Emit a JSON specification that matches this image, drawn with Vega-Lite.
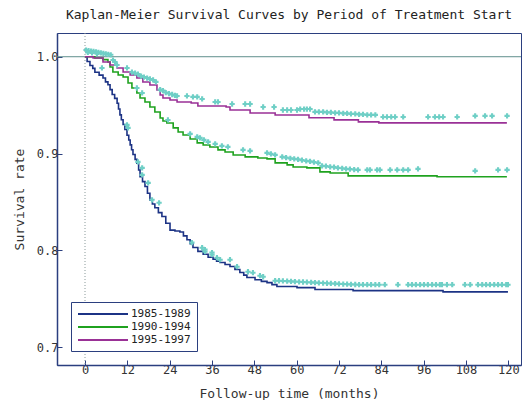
{
  "$schema": "https://vega.github.io/schema/vega-lite/v6.json",
  "width": 464,
  "height": 332,
  "autosize": {"type": "none"},
  "padding": {"left": 57, "top": 33, "right": 4, "bottom": 35},
  "background": "white",
  "title": {
    "text": "Kaplan-Meier Survival Curves by Period of Treatment Start",
    "font": "DejaVu Sans Mono",
    "fontSize": 13,
    "fontWeight": "normal",
    "color": "#222222",
    "anchor": "middle",
    "offset": 11
  },
  "config": {
    "view": {"stroke": "#2b3f7f", "strokeWidth": 1},
    "axis": {
      "labelFont": "DejaVu Sans Mono",
      "labelFontSize": 12,
      "labelColor": "#333333",
      "titleFont": "DejaVu Sans Mono",
      "titleFontSize": 13,
      "titleFontWeight": "normal",
      "titleColor": "#333333",
      "domainColor": "#2b3f7f",
      "domainWidth": 1.5,
      "tickColor": "#2b3f7f",
      "grid": false
    }
  },
  "datasets": {
    "km": [
      {"g": "1985-1989", "t": 0, "s": 1.0},
      {"g": "1985-1989", "t": 0.6, "s": 0.995},
      {"g": "1985-1989", "t": 1.4, "s": 0.991},
      {"g": "1985-1989", "t": 2.2, "s": 0.988},
      {"g": "1985-1989", "t": 2.8, "s": 0.984},
      {"g": "1985-1989", "t": 4.0, "s": 0.981},
      {"g": "1985-1989", "t": 5.1, "s": 0.978},
      {"g": "1985-1989", "t": 5.8, "s": 0.974},
      {"g": "1985-1989", "t": 6.5, "s": 0.971},
      {"g": "1985-1989", "t": 7.1, "s": 0.966},
      {"g": "1985-1989", "t": 7.7, "s": 0.961},
      {"g": "1985-1989", "t": 8.4, "s": 0.957},
      {"g": "1985-1989", "t": 9.1, "s": 0.952},
      {"g": "1985-1989", "t": 9.5, "s": 0.946},
      {"g": "1985-1989", "t": 9.9, "s": 0.940},
      {"g": "1985-1989", "t": 10.3, "s": 0.935},
      {"g": "1985-1989", "t": 10.8, "s": 0.930},
      {"g": "1985-1989", "t": 11.3, "s": 0.925},
      {"g": "1985-1989", "t": 11.9, "s": 0.919},
      {"g": "1985-1989", "t": 12.4, "s": 0.914},
      {"g": "1985-1989", "t": 12.8, "s": 0.909},
      {"g": "1985-1989", "t": 13.2, "s": 0.904},
      {"g": "1985-1989", "t": 13.6, "s": 0.899},
      {"g": "1985-1989", "t": 14.2, "s": 0.894},
      {"g": "1985-1989", "t": 14.7, "s": 0.890},
      {"g": "1985-1989", "t": 15.2, "s": 0.883},
      {"g": "1985-1989", "t": 15.6, "s": 0.876},
      {"g": "1985-1989", "t": 16.3, "s": 0.871},
      {"g": "1985-1989", "t": 17.0, "s": 0.866},
      {"g": "1985-1989", "t": 17.7, "s": 0.859},
      {"g": "1985-1989", "t": 18.4, "s": 0.852},
      {"g": "1985-1989", "t": 19.1, "s": 0.848},
      {"g": "1985-1989", "t": 19.8, "s": 0.844},
      {"g": "1985-1989", "t": 20.8, "s": 0.839},
      {"g": "1985-1989", "t": 21.8, "s": 0.835},
      {"g": "1985-1989", "t": 22.9, "s": 0.828},
      {"g": "1985-1989", "t": 24.1, "s": 0.821},
      {"g": "1985-1989", "t": 25.5, "s": 0.820},
      {"g": "1985-1989", "t": 26.9, "s": 0.819},
      {"g": "1985-1989", "t": 27.9, "s": 0.815},
      {"g": "1985-1989", "t": 28.9, "s": 0.811},
      {"g": "1985-1989", "t": 29.8, "s": 0.807},
      {"g": "1985-1989", "t": 30.6, "s": 0.803},
      {"g": "1985-1989", "t": 32.0, "s": 0.799},
      {"g": "1985-1989", "t": 33.5, "s": 0.796},
      {"g": "1985-1989", "t": 34.9, "s": 0.793},
      {"g": "1985-1989", "t": 36.3, "s": 0.791},
      {"g": "1985-1989", "t": 37.3, "s": 0.789},
      {"g": "1985-1989", "t": 38.3, "s": 0.7875},
      {"g": "1985-1989", "t": 39.7, "s": 0.7855},
      {"g": "1985-1989", "t": 41.1, "s": 0.7834},
      {"g": "1985-1989", "t": 42.5, "s": 0.7803},
      {"g": "1985-1989", "t": 43.9, "s": 0.7772},
      {"g": "1985-1989", "t": 45.0, "s": 0.7745},
      {"g": "1985-1989", "t": 45.9, "s": 0.772},
      {"g": "1985-1989", "t": 48.2, "s": 0.7698},
      {"g": "1985-1989", "t": 50.0, "s": 0.768},
      {"g": "1985-1989", "t": 51.6, "s": 0.7668},
      {"g": "1985-1989", "t": 53.0, "s": 0.7647},
      {"g": "1985-1989", "t": 54.4, "s": 0.7627},
      {"g": "1985-1989", "t": 60.1, "s": 0.7616},
      {"g": "1985-1989", "t": 65.2, "s": 0.7596},
      {"g": "1985-1989", "t": 76.0, "s": 0.7585},
      {"g": "1985-1989", "t": 101.5, "s": 0.7572},
      {"g": "1985-1989", "t": 119.9, "s": 0.7572},
      {"g": "1990-1994", "t": 0, "s": 1.0},
      {"g": "1990-1994", "t": 2.8, "s": 0.9987},
      {"g": "1990-1994", "t": 5.1, "s": 0.997},
      {"g": "1990-1994", "t": 6.5, "s": 0.9945},
      {"g": "1990-1994", "t": 7.1, "s": 0.9894},
      {"g": "1990-1994", "t": 7.9, "s": 0.9842},
      {"g": "1990-1994", "t": 9.4, "s": 0.9811},
      {"g": "1990-1994", "t": 10.8, "s": 0.979},
      {"g": "1990-1994", "t": 12.2, "s": 0.9729},
      {"g": "1990-1994", "t": 13.3, "s": 0.9677},
      {"g": "1990-1994", "t": 14.7, "s": 0.9626},
      {"g": "1990-1994", "t": 15.6, "s": 0.9574},
      {"g": "1990-1994", "t": 17.0, "s": 0.9533},
      {"g": "1990-1994", "t": 18.4, "s": 0.9481},
      {"g": "1990-1994", "t": 19.8, "s": 0.943},
      {"g": "1990-1994", "t": 21.3, "s": 0.9368},
      {"g": "1990-1994", "t": 22.1, "s": 0.9337},
      {"g": "1990-1994", "t": 23.2, "s": 0.9316},
      {"g": "1990-1994", "t": 25.0, "s": 0.9265},
      {"g": "1990-1994", "t": 26.4, "s": 0.9223},
      {"g": "1990-1994", "t": 27.8, "s": 0.9192},
      {"g": "1990-1994", "t": 29.8, "s": 0.9151},
      {"g": "1990-1994", "t": 31.8, "s": 0.911},
      {"g": "1990-1994", "t": 33.5, "s": 0.9089},
      {"g": "1990-1994", "t": 35.4, "s": 0.9068},
      {"g": "1990-1994", "t": 37.7, "s": 0.9038},
      {"g": "1990-1994", "t": 39.7, "s": 0.9017},
      {"g": "1990-1994", "t": 42.0, "s": 0.8986},
      {"g": "1990-1994", "t": 45.4, "s": 0.8966},
      {"g": "1990-1994", "t": 49.0, "s": 0.8955},
      {"g": "1990-1994", "t": 51.6, "s": 0.8945},
      {"g": "1990-1994", "t": 53.9, "s": 0.8904},
      {"g": "1990-1994", "t": 57.3, "s": 0.8883},
      {"g": "1990-1994", "t": 59.0, "s": 0.8862},
      {"g": "1990-1994", "t": 62.9, "s": 0.8852},
      {"g": "1990-1994", "t": 66.6, "s": 0.8811},
      {"g": "1990-1994", "t": 69.5, "s": 0.88},
      {"g": "1990-1994", "t": 74.6, "s": 0.877},
      {"g": "1990-1994", "t": 99.8, "s": 0.876},
      {"g": "1990-1994", "t": 119.6, "s": 0.876},
      {"g": "1995-1997", "t": 0, "s": 1.0},
      {"g": "1995-1997", "t": 2.3, "s": 0.9987},
      {"g": "1995-1997", "t": 5.1, "s": 0.9946},
      {"g": "1995-1997", "t": 7.1, "s": 0.9915},
      {"g": "1995-1997", "t": 9.1, "s": 0.9884},
      {"g": "1995-1997", "t": 10.8, "s": 0.9842},
      {"g": "1995-1997", "t": 12.8, "s": 0.9811},
      {"g": "1995-1997", "t": 14.7, "s": 0.978},
      {"g": "1995-1997", "t": 16.4, "s": 0.9739},
      {"g": "1995-1997", "t": 18.4, "s": 0.9708},
      {"g": "1995-1997", "t": 20.4, "s": 0.9657},
      {"g": "1995-1997", "t": 21.3, "s": 0.9605},
      {"g": "1995-1997", "t": 22.1, "s": 0.9574},
      {"g": "1995-1997", "t": 24.1, "s": 0.9553},
      {"g": "1995-1997", "t": 26.1, "s": 0.9533},
      {"g": "1995-1997", "t": 30.1, "s": 0.9522},
      {"g": "1995-1997", "t": 32.0, "s": 0.9492},
      {"g": "1995-1997", "t": 40.0, "s": 0.9481},
      {"g": "1995-1997", "t": 41.1, "s": 0.945},
      {"g": "1995-1997", "t": 46.8, "s": 0.9419},
      {"g": "1995-1997", "t": 53.9, "s": 0.9399},
      {"g": "1995-1997", "t": 63.5, "s": 0.937},
      {"g": "1995-1997", "t": 70.6, "s": 0.9348},
      {"g": "1995-1997", "t": 77.5, "s": 0.9327},
      {"g": "1995-1997", "t": 83.3, "s": 0.9317},
      {"g": "1995-1997", "t": 119.6, "s": 0.9317}
    ],
    "censor": [
      {"t": 0.3, "s": 1.0069}, {"t": 1.0, "s": 1.0062}, {"t": 1.7, "s": 1.0058}, {"t": 2.4, "s": 1.0055},
      {"t": 3.1, "s": 1.005}, {"t": 3.8, "s": 1.0045}, {"t": 4.5, "s": 1.004}, {"t": 5.2, "s": 1.0035},
      {"t": 5.9, "s": 1.003}, {"t": 6.6, "s": 1.0025}, {"t": 7.3, "s": 1.002}, {"t": 0.8, "s": 1.0045},
      {"t": 2.0, "s": 1.004}, {"t": 3.4, "s": 1.0035},
      {"t": 7.94, "s": 0.9966}, {"t": 8.51, "s": 0.9945}, {"t": 9.07, "s": 0.9914}, {"t": 11.91, "s": 0.9884},
      {"t": 13.3, "s": 0.984}, {"t": 14.2, "s": 0.983}, {"t": 15.0, "s": 0.982}, {"t": 15.9, "s": 0.98},
      {"t": 16.7, "s": 0.979}, {"t": 17.6, "s": 0.978}, {"t": 18.4, "s": 0.977}, {"t": 19.3, "s": 0.976},
      {"t": 20.1, "s": 0.974}, {"t": 21.3, "s": 0.966}, {"t": 22.1, "s": 0.965}, {"t": 22.9, "s": 0.963},
      {"t": 23.8, "s": 0.962}, {"t": 24.7, "s": 0.961}, {"t": 25.5, "s": 0.96}, {"t": 26.1, "s": 0.9595},
      {"t": 28.9, "s": 0.9595}, {"t": 30.6, "s": 0.9585}, {"t": 31.8, "s": 0.9585}, {"t": 33.2, "s": 0.9564},
      {"t": 36.9, "s": 0.9533}, {"t": 37.7, "s": 0.9533}, {"t": 41.7, "s": 0.9512}, {"t": 45.4, "s": 0.9512},
      {"t": 46.8, "s": 0.9512}, {"t": 50.5, "s": 0.9481}, {"t": 53.6, "s": 0.9481}, {"t": 56.1, "s": 0.945},
      {"t": 57.3, "s": 0.945}, {"t": 58.4, "s": 0.945}, {"t": 60.1, "s": 0.945}, {"t": 61.0, "s": 0.946},
      {"t": 62.1, "s": 0.946}, {"t": 62.9, "s": 0.946}, {"t": 63.8, "s": 0.946}, {"t": 65.2, "s": 0.943},
      {"t": 66.3, "s": 0.943}, {"t": 67.5, "s": 0.943}, {"t": 68.6, "s": 0.9425}, {"t": 69.7, "s": 0.9425},
      {"t": 70.9, "s": 0.942}, {"t": 72.0, "s": 0.942}, {"t": 73.2, "s": 0.9415}, {"t": 74.3, "s": 0.9415},
      {"t": 75.4, "s": 0.941}, {"t": 76.6, "s": 0.941}, {"t": 77.7, "s": 0.9405}, {"t": 78.8, "s": 0.9405},
      {"t": 80.0, "s": 0.94}, {"t": 81.1, "s": 0.94}, {"t": 82.3, "s": 0.94},
      {"t": 84.5, "s": 0.9378}, {"t": 85.6, "s": 0.9378}, {"t": 86.8, "s": 0.9378}, {"t": 87.9, "s": 0.9378},
      {"t": 90.2, "s": 0.9378}, {"t": 97.25, "s": 0.9378}, {"t": 99.2, "s": 0.9378}, {"t": 100.4, "s": 0.9378},
      {"t": 101.5, "s": 0.9378}, {"t": 105.5, "s": 0.9378}, {"t": 110.6, "s": 0.9389}, {"t": 113.4, "s": 0.9389},
      {"t": 115.4, "s": 0.9389}, {"t": 119.65, "s": 0.9389},
      {"t": 4.8, "s": 0.9884}, {"t": 14.7, "s": 0.9677}, {"t": 16.2, "s": 0.9626}, {"t": 23.5, "s": 0.9347},
      {"t": 29.8, "s": 0.9203}, {"t": 31.8, "s": 0.9172}, {"t": 32.6, "s": 0.9162}, {"t": 33.7, "s": 0.9141},
      {"t": 34.9, "s": 0.9121}, {"t": 36.9, "s": 0.91}, {"t": 38.8, "s": 0.9079}, {"t": 40.5, "s": 0.9069},
      {"t": 44.8, "s": 0.9038}, {"t": 46.8, "s": 0.9028}, {"t": 51.6, "s": 0.9007}, {"t": 52.7, "s": 0.8997},
      {"t": 53.9, "s": 0.8987}, {"t": 55.9, "s": 0.8966}, {"t": 57.0, "s": 0.8958}, {"t": 58.2, "s": 0.895},
      {"t": 59.3, "s": 0.8945}, {"t": 60.4, "s": 0.894}, {"t": 61.5, "s": 0.8932}, {"t": 62.7, "s": 0.8925},
      {"t": 63.8, "s": 0.892}, {"t": 64.9, "s": 0.8912}, {"t": 66.1, "s": 0.8904}, {"t": 67.2, "s": 0.8873},
      {"t": 68.3, "s": 0.887}, {"t": 69.5, "s": 0.8863}, {"t": 70.6, "s": 0.886}, {"t": 71.7, "s": 0.8852},
      {"t": 72.9, "s": 0.8848}, {"t": 74.0, "s": 0.8842}, {"t": 75.1, "s": 0.884}, {"t": 76.3, "s": 0.8835},
      {"t": 77.4, "s": 0.8832}, {"t": 80.0, "s": 0.8832}, {"t": 80.8, "s": 0.8832}, {"t": 82.8, "s": 0.8832},
      {"t": 83.6, "s": 0.8832}, {"t": 86.5, "s": 0.8832}, {"t": 88.5, "s": 0.8832}, {"t": 90.2, "s": 0.8832},
      {"t": 91.6, "s": 0.8832}, {"t": 94.4, "s": 0.8842}, {"t": 110.6, "s": 0.8821}, {"t": 117.1, "s": 0.8832},
      {"t": 119.65, "s": 0.8832},
      {"t": 11.9, "s": 0.9296}, {"t": 12.2, "s": 0.9265}, {"t": 15.0, "s": 0.8914}, {"t": 16.2, "s": 0.8852},
      {"t": 16.2, "s": 0.878}, {"t": 17.9, "s": 0.8698}, {"t": 19.0, "s": 0.8523}, {"t": 21.0, "s": 0.8492},
      {"t": 30.3, "s": 0.808}, {"t": 33.2, "s": 0.8028}, {"t": 34.0, "s": 0.8008}, {"t": 36.0, "s": 0.7956},
      {"t": 37.4, "s": 0.7925}, {"t": 34.0, "s": 0.7987}, {"t": 36.0, "s": 0.7977}, {"t": 38.3, "s": 0.7904},
      {"t": 41.1, "s": 0.7904}, {"t": 43.1, "s": 0.7832}, {"t": 46.2, "s": 0.778}, {"t": 47.6, "s": 0.777},
      {"t": 49.6, "s": 0.7739}, {"t": 50.5, "s": 0.7728},
      {"t": 53.9, "s": 0.7687}, {"t": 55.0, "s": 0.7687}, {"t": 56.1, "s": 0.7685}, {"t": 57.3, "s": 0.7683},
      {"t": 58.4, "s": 0.768}, {"t": 59.5, "s": 0.7678}, {"t": 60.7, "s": 0.7676}, {"t": 61.8, "s": 0.7674},
      {"t": 62.9, "s": 0.7672}, {"t": 64.1, "s": 0.767}, {"t": 65.2, "s": 0.7667}, {"t": 66.3, "s": 0.7665},
      {"t": 67.5, "s": 0.7663}, {"t": 68.6, "s": 0.7661}, {"t": 69.7, "s": 0.7659}, {"t": 70.9, "s": 0.7657},
      {"t": 72.0, "s": 0.7655}, {"t": 73.2, "s": 0.7653}, {"t": 74.3, "s": 0.7651}, {"t": 75.4, "s": 0.765},
      {"t": 76.6, "s": 0.7648}, {"t": 77.7, "s": 0.7646}, {"t": 78.8, "s": 0.7646}, {"t": 80.0, "s": 0.7646},
      {"t": 81.1, "s": 0.7646}, {"t": 82.3, "s": 0.7646}, {"t": 83.4, "s": 0.7646}, {"t": 85.0, "s": 0.7646},
      {"t": 88.7, "s": 0.7646}, {"t": 91.6, "s": 0.7646}, {"t": 92.7, "s": 0.7646}, {"t": 93.8, "s": 0.7646},
      {"t": 95.0, "s": 0.7646}, {"t": 96.1, "s": 0.7646}, {"t": 97.2, "s": 0.7646}, {"t": 98.4, "s": 0.7646},
      {"t": 99.5, "s": 0.7646}, {"t": 100.6, "s": 0.7646}, {"t": 101.2, "s": 0.7646}, {"t": 102.6, "s": 0.7646},
      {"t": 104.1, "s": 0.7646}, {"t": 107.7, "s": 0.7646}, {"t": 109.2, "s": 0.7646}, {"t": 111.4, "s": 0.7646},
      {"t": 112.6, "s": 0.7646}, {"t": 113.7, "s": 0.7646}, {"t": 114.8, "s": 0.7646}, {"t": 116.0, "s": 0.7646},
      {"t": 117.1, "s": 0.7646}, {"t": 118.2, "s": 0.7646}, {"t": 119.4, "s": 0.7646}, {"t": 119.9, "s": 0.7646}
    ]
  },
  "layer": [
    {
      "data": {"values": [{"y": 1.0}]},
      "mark": {"type": "rule", "color": "#5f8f8c", "strokeWidth": 1},
      "encoding": {
        "y": {"field": "y", "type": "quantitative", "scale": {"domain": [0.6817, 1.0245], "nice": false, "zero": false}}
      }
    },
    {
      "data": {"values": [{"x": 0}]},
      "mark": {"type": "rule", "color": "#8a9a9a", "strokeWidth": 1, "strokeDash": [1, 2]},
      "encoding": {
        "x": {"field": "x", "type": "quantitative", "scale": {"domain": [-7.94, 123.6], "nice": false, "zero": false}}
      }
    },
    {
      "data": {"name": "km"},
      "mark": {"type": "line", "interpolate": "step-after", "strokeWidth": 1.6},
      "encoding": {
        "x": {
          "field": "t", "type": "quantitative",
          "scale": {"domain": [-7.94, 123.6], "nice": false, "zero": false},
          "axis": {
            "title": "Follow-up time (months)",
            "values": [0, 12, 24, 36, 48, 60, 72, 84, 96, 108, 120],
            "tickSize": -5,
            "labelPadding": 4,
            "titlePadding": 12
          }
        },
        "y": {
          "field": "s", "type": "quantitative",
          "scale": {"domain": [0.6817, 1.0245], "nice": false, "zero": false},
          "axis": {
            "title": "Survival rate",
            "values": [0.7, 0.8, 0.9, 1.0],
            "format": ".1f",
            "tickSize": -5,
            "labelPadding": 4,
            "titlePadding": 10
          }
        },
        "color": {
          "field": "g", "type": "nominal",
          "scale": {"domain": ["1985-1989", "1990-1994", "1995-1997"], "range": ["#1c3385", "#1fa21f", "#9a3196"]},
          "legend": {
            "orient": "none",
            "legendX": 14,
            "legendY": 269,
            "title": null,
            "symbolType": "M-5,0H5",
            "symbolSize": 100,
            "symbolStrokeWidth": 2,
            "symbolOffset": 20,
            "labelOffset": 22,
            "labelFont": "DejaVu Sans Mono",
            "labelFontSize": 11,
            "labelColor": "#222222",
            "strokeColor": "#2b3f7f",
            "fillColor": "white",
            "padding": 6,
            "rowPadding": 2
          }
        }
      }
    },
    {
      "data": {"name": "censor"},
      "mark": {"type": "point", "shape": "cross", "filled": true, "size": 28, "color": "#6fcfc6", "opacity": 1},
      "encoding": {
        "x": {"field": "t", "type": "quantitative"},
        "y": {"field": "s", "type": "quantitative"}
      }
    }
  ]
}
